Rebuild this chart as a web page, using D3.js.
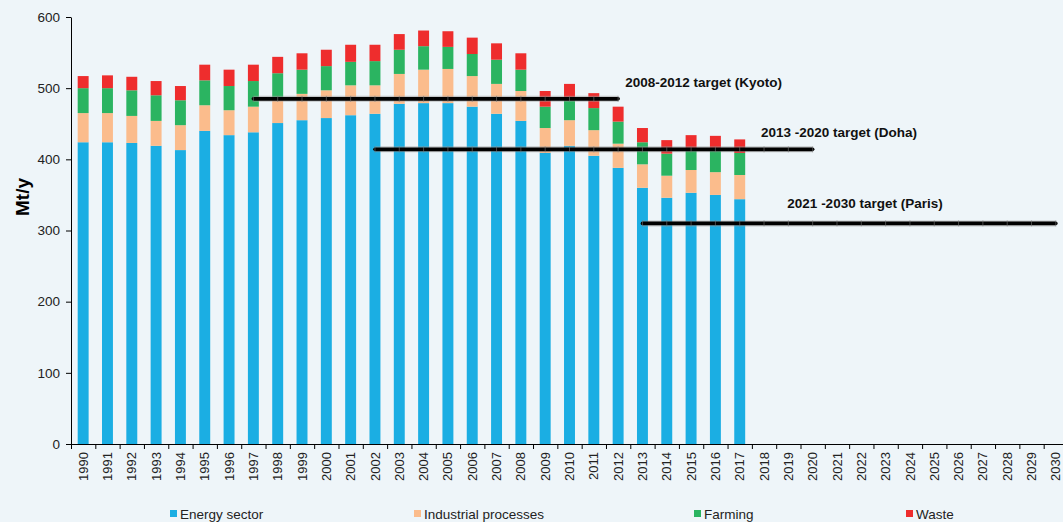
<!DOCTYPE html>
<html>
<head>
	<meta http-equiv="Content-Type" content="text/html;charset=utf-8">
	<title>Emissions</title>
	<script type="text/javascript" src="https://d3js.org/d3.v7.min.js"></script>
	<style type="text/css">
		body {
			margin: 0;
			background-color: #eef5f9;
			font-family: "Liberation Sans", Arial, sans-serif;
		}
		.axis text {
			fill: #222;
		}
		.axis .domain, .axis line {
			stroke: #000;
		}
		.target-label {
			font-weight: bold;
			font-size: 13.5px;
			fill: #111;
		}
	</style>
</head>
<body>
	<div id="chart"></div>
	<script type="text/javascript">
		//data
		var years = d3.range(1990, 2031);
		var seriesNames = ["Energy sector", "Industrial processes", "Farming", "Waste"];
		var seriesColors = ["#1baee3", "#fbbc8c", "#2bb461", "#ee2d2d"];

		var energy = [424, 424, 423, 419, 413, 440, 434, 438, 451, 455, 458, 462, 464, 478, 479, 479, 474, 464, 454, 409, 419, 405, 388, 360, 346, 353, 350, 344];
		var industrial = [41, 41, 38, 35, 35, 36, 35, 36, 36, 37, 39, 42, 40, 42, 47, 48, 43, 42, 42, 35, 36, 36, 34, 33, 31, 32, 32, 34];
		var farming = [35, 35, 36, 36, 35, 35, 34, 36, 34, 34, 34, 33, 34, 34, 33, 31, 31, 34, 30, 30, 28, 31, 31, 31, 31, 29, 31, 31];
		var waste = [17, 18, 19, 20, 20, 22, 23, 23, 23, 23, 23, 24, 23, 22, 22, 22, 23, 23, 23, 22, 23, 21, 21, 20, 19, 20, 20, 19];

		var targetLabels = ["2008-2012 target (Kyoto)", "2013 -2020 target (Doha)", "2021 -2030 target (Paris)"];
		var targetStart = [1997, 2002, 2013];
		var targetEnd = [2012, 2020, 2030];
		var targetValue = [485, 414, 310];
		var yTicks = [0, 100, 200, 300, 400, 500, 600];

		// layout
		var W = 1063, H = 522;
		var m = {left: 71, top: 17, bottom: 444, right: 1068};
		var labelPos = [[7, -12], [-3, -12], [-1, -15]];   // px offsets from x(year) and y(value)
		var labelYear = [2012, 2018, 2019];
		var legendX = [170, 414, 694, 906];

		var rows = energy.map(function(d, i) {
			return {year: years[i], e: energy[i], ip: industrial[i], f: farming[i], w: waste[i]};
		});
		var keys = ["e", "ip", "f", "w"];
		var stacked = d3.stack().keys(keys)(rows);

		var svg = d3.select("#chart").append("svg")
			.attr("width", W)
			.attr("height", H);

		var x = d3.scaleBand()
			.domain(years)
			.range([m.left, m.right])
			.paddingInner(0.55)
			.paddingOuter(0.275);

		var y = d3.scaleLinear()
			.domain([0, 600])
			.range([m.bottom, m.top]);

		// bars
		svg.append("g").selectAll("g")
			.data(stacked)
			.join("g")
			.attr("fill", function(d, i) { return seriesColors[i]; })
			.selectAll("rect")
			.data(function(d) { return d; })
			.join("rect")
			.attr("x", function(d) { return x(d.data.year); })
			.attr("y", function(d) { return y(d[1]); })
			.attr("width", x.bandwidth())
			.attr("height", function(d) { return y(d[0]) - y(d[1]); });

		// y axis
		var yAxis = svg.append("g")
			.attr("class", "axis")
			.attr("transform", "translate(" + m.left + ",0)")
			.call(d3.axisLeft(y).tickValues(yTicks).tickSize(5).tickPadding(6).tickSizeOuter(0));
		yAxis.selectAll("text").style("font-size", "13.5px");

		// x axis: labels at centres, ticks at band edges
		var xAxis = svg.append("g")
			.attr("class", "axis")
			.attr("transform", "translate(0," + m.bottom + ")")
			.call(d3.axisBottom(x).tickSize(0).tickSizeOuter(0));
		xAxis.select(".domain").attr("d", "M" + m.left + ",0.5H" + m.right);
		xAxis.selectAll("text")
			.style("font-size", "13px")
			.attr("transform", "rotate(-90)")
			.attr("text-anchor", "end")
			.attr("x", -8)
			.attr("y", 0)
			.attr("dy", "0.35em");
		xAxis.selectAll("line.edge")
			.data(years.concat([2031]))
			.join("line")
			.attr("class", "edge")
			.attr("x1", function(d) { return x.step() * (d - 1990) + m.left + 0.5; })
			.attr("x2", function(d) { return x.step() * (d - 1990) + m.left + 0.5; })
			.attr("y1", 0)
			.attr("y2", 5);

		// target lines
		var cx = function(yr) { return x(yr) + x.bandwidth() / 2; };
		var tg = svg.append("g");
		targetValue.forEach(function(v, i) {
			var x1 = cx(targetStart[i]), x2 = cx(targetEnd[i]), yy = y(v);
			tg.append("line")
				.attr("x1", x1).attr("x2", x2).attr("y1", yy).attr("y2", yy)
				.attr("stroke", "#9a9a9a").attr("stroke-width", 6).attr("stroke-opacity", 0.5);
			tg.append("line")
				.attr("x1", x1).attr("x2", x2).attr("y1", yy).attr("y2", yy)
				.attr("stroke", "#000").attr("stroke-width", 3.6)
				.attr("stroke-linecap", "round");
			tg.selectAll(null)
				.data(d3.range(targetStart[i], targetEnd[i] + 1))
				.join("line")
				.attr("x1", function(d) { return cx(d); })
				.attr("x2", function(d) { return cx(d); })
				.attr("y1", yy - 3).attr("y2", yy + 3)
				.attr("stroke", "#777").attr("stroke-width", 0.6);
			tg.append("text")
				.attr("class", "target-label")
				.attr("x", cx(labelYear[i]) + labelPos[i][0])
				.attr("y", yy + labelPos[i][1])
				.text(targetLabels[i]);
		});

		// y title
		svg.append("text")
			.attr("transform", "translate(29,197) rotate(-90)")
			.attr("text-anchor", "middle")
			.style("font-size", "19px")
			.style("font-weight", "bold")
			.attr("fill", "#000")
			.text("Mt/y");

		// legend
		var lg = svg.append("g").selectAll("g")
			.data(seriesNames)
			.join("g")
			.attr("transform", function(d, i) { return "translate(" + legendX[i] + ",0)"; });
		lg.append("rect")
			.attr("x", 0).attr("y", 510)
			.attr("width", 7).attr("height", 7)
			.attr("fill", function(d, i) { return seriesColors[i]; });
		lg.append("text")
			.attr("x", 10).attr("y", 519)
			.style("font-size", "13.5px")
			.attr("fill", "#222")
			.text(function(d) { return d; });
	</script>
</body>
</html>
